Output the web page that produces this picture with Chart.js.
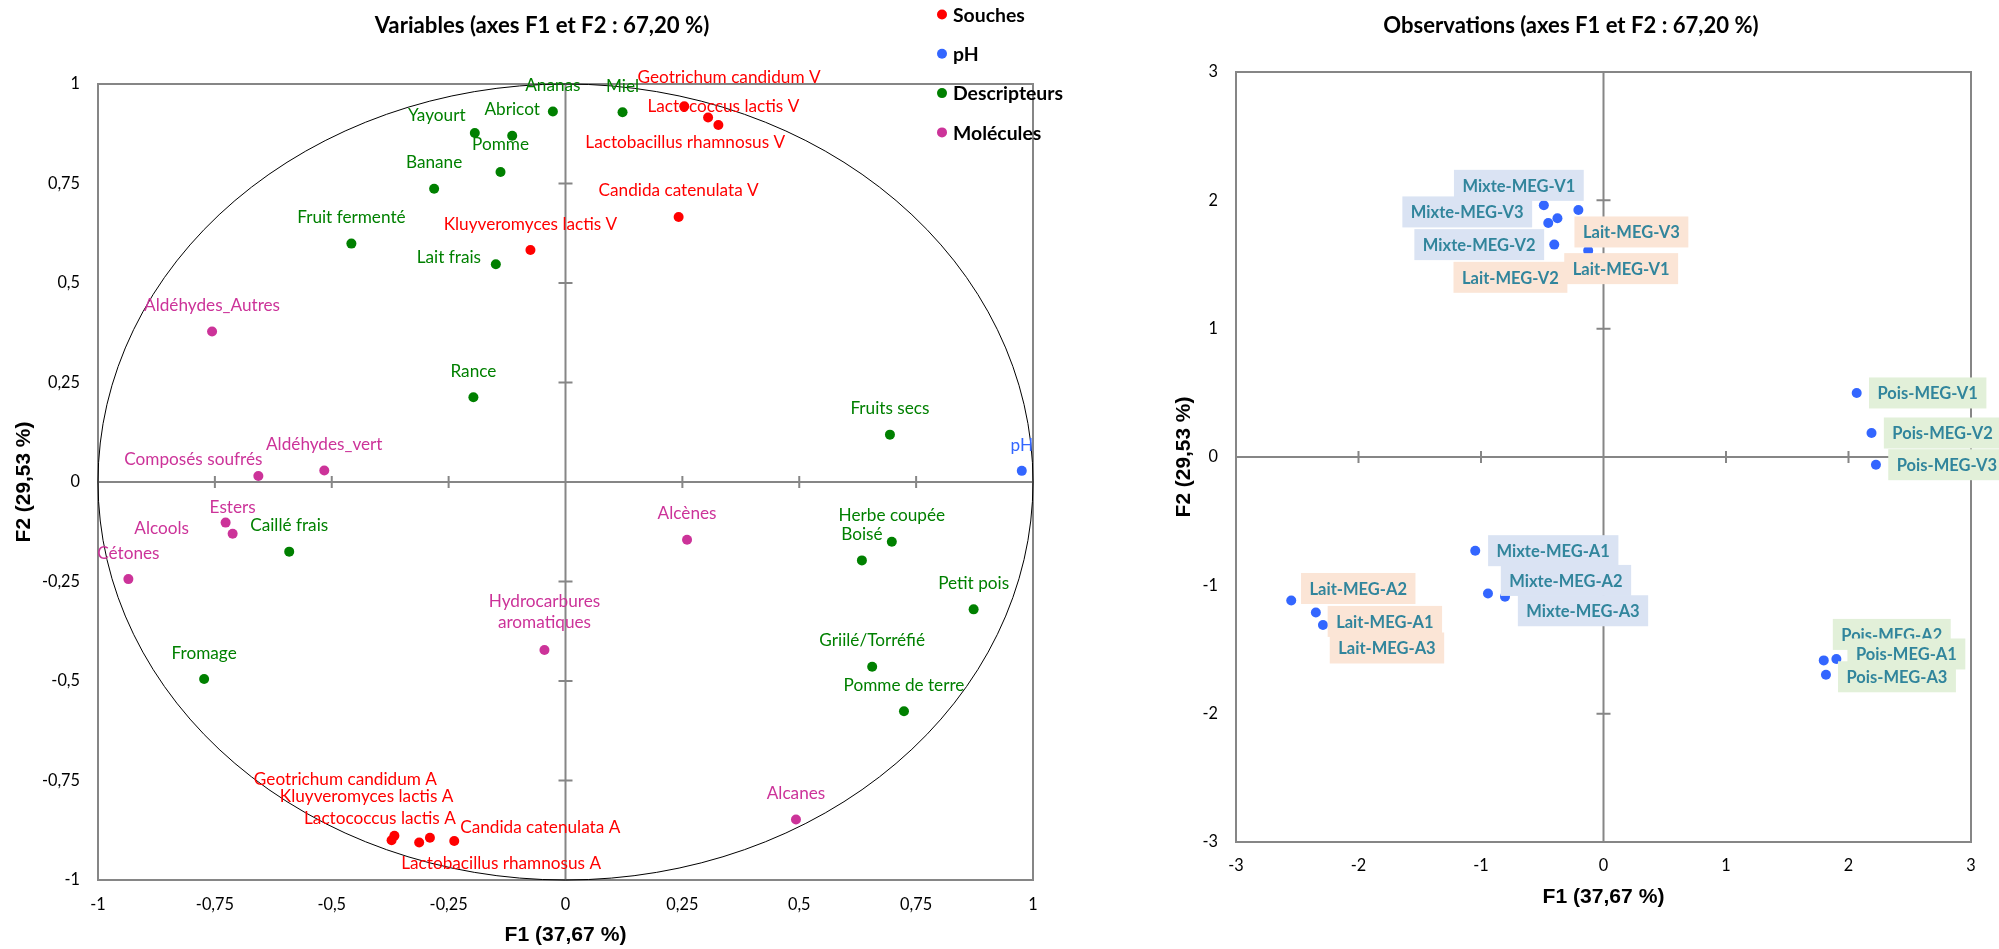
<!DOCTYPE html>
<html><head><meta charset="utf-8">
<script src="https://cdn.jsdelivr.net/npm/chart.js@4.4.1/dist/chart.umd.min.js"></script>
<style>
html,body{margin:0;padding:0;background:#fff;width:1999px;height:949px;overflow:hidden}
#left{position:absolute;left:0;top:0;width:1100px;height:949px}
#right{position:absolute;left:1100px;top:0;width:899px;height:949px}
</style></head><body>
<div id="left"><canvas id="c1"></canvas></div>
<div id="right"><canvas id="c2"></canvas></div>
<script>
// ---------- DATA: variables (F1, F2) ----------
const souchesNames = ['Geotrichum candidum V','Lactococcus lactis V','Lactobacillus rhamnosus V','Candida catenulata V','Kluyveromyces lactis V',
  'Geotrichum candidum A','Kluyveromyces lactis A','Lactococcus lactis A','Candida catenulata A','Lactobacillus rhamnosus A'];
const souchesF1 = [0.305, 0.327, 0.254, 0.242, -0.075, -0.366, -0.372, -0.290, -0.238, -0.313];
const souchesF2 = [0.916, 0.897, 0.944, 0.666, 0.583, -0.889, -0.900, -0.894, -0.902, -0.906];

const phNames = ['pH'];
const phF1 = [0.976];
const phF2 = [0.028];

const descNames = ['Ananas','Miel','Abricot','Yayourt','Pomme','Banane','Fruit fermenté','Lait frais','Rance','Fruits secs',
  'Caillé frais','Herbe coupée','Boisé','Petit pois','Griilé/Torréfié','Fromage','Pomme de terre'];
const descF1 = [-0.027, 0.122, -0.114, -0.194, -0.139, -0.281, -0.458, -0.149, -0.197, 0.694, -0.591, 0.698, 0.634, 0.873, 0.656, -0.773, 0.724];
const descF2 = [0.931, 0.929, 0.870, 0.877, 0.779, 0.737, 0.599, 0.547, 0.213, 0.119, -0.175, -0.150, -0.197, -0.320, -0.464, -0.495, -0.576];

const molNames = ['Aldéhydes_Autres','Composés soufrés','Aldéhydes_vert','Esters','Alcools','Cétones','Alcènes','Hydrocarbures\naromatiques','Alcanes'];
const molF1 = [-0.756, -0.657, -0.516, -0.712, -0.727, -0.935, 0.260, -0.045, 0.493];
const molF2 = [0.378, 0.015, 0.029, -0.130, -0.102, -0.244, -0.145, -0.422, -0.848];

const varTickLabels = ['-1','-0,75','-0,5','-0,25','0','0,25','0,5','0,75','1'];

// ---------- DATA: observations (F1, F2) ----------
const obsNames = ['Lait-MEG-V1','Lait-MEG-V2','Lait-MEG-V3','Mixte-MEG-V1','Mixte-MEG-V2','Mixte-MEG-V3','Pois-MEG-V1','Pois-MEG-V2','Pois-MEG-V3',
  'Lait-MEG-A1','Lait-MEG-A2','Lait-MEG-A3','Mixte-MEG-A1','Mixte-MEG-A2','Mixte-MEG-A3','Pois-MEG-A2','Pois-MEG-A1','Pois-MEG-A3'];
const obsF1 = [-0.125, -0.376, -0.205, -0.487, -0.402, -0.451, 2.067, 2.188, 2.224, -2.348, -2.549, -2.290, -1.047, -0.943, -0.804, 1.798, 1.901, 1.816];
const obsF2 = [1.608, 1.860, 1.925, 1.961, 1.655, 1.824, 0.499, 0.187, -0.060, -1.211, -1.118, -1.309, -0.730, -1.063, -1.089, -1.585, -1.574, -1.697];

const obsTickLabels = ['-3','-2','-1','0','1','2','3'];

// ---------- label placement (layout only, pixel offsets from the point) ----------
const souchesLabelPos = [[21,-40],[5,-19],[1,36],[0,-26],[0,-26],[-49,-56],[-25,-44],[-50,-19],[86,-14],[82,21]];
const phLabelPos = [[0,-25]];
const descLabelPos = [[0,-26],[0,-26],[0,-26],[-38,-17],[0,-27],[0,-26],[0,-26],[-47,-7],[0,-26],[0,-26],[0,-26],[0,-26],[0,-26],[0,-26],[0,-26],[0,-26],[0,-26]];
const molLabelPos = [[0,-26],[-65,-17],[0,-26],[0,-26],[-64,6],[0,-26],[0,-26],[0,-38],[0,-26]];
const obsLabelPos = [[33,18],[-47,59],[53,22],[-25,-20],[-75,0],[-81,-11],[71,0],[71,0],[71,0],
  [69,9],[67,-12],[64,23],[78,0],[78,-13],[78,14],[68,-26],[70,-5],[71,2]];

// ---------- styles ----------
const RED = '#FF0000', BLUE = '#3366FF', GREEN = '#008000', MAGENTA = '#CC3399';
const AXIS_GREY = '#868686';
const FONT = 'Lato';
const AXFONT = 'Liberation Sans';
Chart.defaults.font.family = FONT;
Chart.defaults.color = '#000';

// font size calibrated so that a sample string has the width measured on the reference
const mctx = document.createElement('canvas').getContext('2d');
function fitSize(sample, weight, family, target) {
  mctx.font = weight + ' 100px ' + family;
  return Math.round(100 * target / mctx.measureText(sample).width * 10) / 10;
}
const SZ_TITLE_L = fitSize('Variables (axes F1 et F2 : 67,20 %)', 'bold', FONT, 335);
const SZ_TITLE_R = fitSize('Observations (axes F1 et F2 : 67,20 %)', 'bold', FONT, 375);
const SZ_F1 = fitSize('F1 (37,67 %)', 'bold', AXFONT, 122);
const SZ_F2 = fitSize('F2 (29,53 %)', 'bold', AXFONT, 121);
const SZ_LABEL = fitSize('Lactobacillus rhamnosus V', 'normal', FONT, 200);
const SZ_TICK = fitSize('0,75', 'normal', FONT, 32);
const SZ_LEGEND = fitSize('Descripteurs', 'bold', FONT, 110);
const SZ_BOX = fitSize('Mixte-MEG-A1', 'bold', FONT, 113);

const toPts = (xs, ys) => xs.map((x, i) => ({x, y: ys[i]}));

const framePlugin = {
  id: 'frame',
  beforeDatasetsDraw(chart, args, opts) {
    const {ctx, chartArea: a, scales: {x, y}} = chart;
    ctx.save();
    ctx.strokeStyle = AXIS_GREY; ctx.lineWidth = 2;
    ctx.strokeRect(a.left, a.top, a.right - a.left, a.bottom - a.top);
    const x0 = x.getPixelForValue(0), y0 = y.getPixelForValue(0);
    ctx.beginPath();
    ctx.moveTo(a.left, y0); ctx.lineTo(a.right, y0);
    ctx.moveTo(x0, a.top); ctx.lineTo(x0, a.bottom);
    x.ticks.forEach(t => { const p = x.getPixelForValue(t.value); ctx.moveTo(p, y0 - 6); ctx.lineTo(p, y0 + 6); });
    y.ticks.forEach(t => { const p = y.getPixelForValue(t.value); ctx.moveTo(x0 - 7, p); ctx.lineTo(x0 + 7, p); });
    ctx.stroke();
    if (opts.circle) {
      const rx = x.getPixelForValue(1) - x0, ry = y0 - y.getPixelForValue(1);
      ctx.beginPath();
      ctx.strokeStyle = '#000'; ctx.lineWidth = 1;
      ctx.ellipse(x0, y0, rx, ry, 0, 0, Math.PI * 2);
      ctx.stroke();
    }
    ctx.restore();
  }
};

const titlePlugin = {
  id: 'ctitle',
  afterDraw(chart, args, opts) {
    const ctx = chart.ctx;
    ctx.save();
    ctx.font = opts.font; ctx.fillStyle = '#000';
    ctx.textAlign = 'center'; ctx.textBaseline = 'middle';
    ctx.fillText(opts.text, opts.x, opts.y);
    ctx.restore();
  }
};

const varLabelPlugin = {
  id: 'varLabels',
  afterDatasetsDraw(chart) {
    const ctx = chart.ctx;
    ctx.save();
    ctx.font = SZ_LABEL + 'px ' + FONT;
    ctx.textAlign = 'center'; ctx.textBaseline = 'middle';
    chart.data.datasets.forEach((ds, i) => {
      const meta = chart.getDatasetMeta(i);
      ctx.fillStyle = ds.backgroundColor;
      meta.data.forEach((el, j) => {
        const [dx, dy] = ds.labelPos[j];
        const lines = ds.names[j].split('\n');
        const lh = 21.5;
        lines.forEach((ln, k) => {
          ctx.fillText(ln, el.x + dx, el.y + dy + (k - (lines.length - 1) / 2) * lh);
        });
      });
    });
    ctx.restore();
  }
};

const legendPlugin = {
  id: 'legendPl',
  afterDraw(chart, args, opts) {
    const ctx = chart.ctx;
    ctx.save();
    ctx.font = 'bold ' + SZ_LEGEND + 'px ' + FONT;
    ctx.textAlign = 'left'; ctx.textBaseline = 'middle';
    chart.data.datasets.forEach((ds, i) => {
      const cy = opts.y + i * opts.gap;
      ctx.fillStyle = ds.backgroundColor;
      ctx.beginPath(); ctx.arc(opts.x, cy, 5, 0, Math.PI * 2); ctx.fill();
      ctx.fillStyle = '#000';
      ctx.fillText(ds.label, opts.x + 11, cy + 1);
    });
    ctx.restore();
  }
};

const BOX_COLORS = {Lait: '#FBE5D6', Mixte: '#DAE3F3', Pois: '#E2F0D9'};
const obsLabelPlugin = {
  id: 'obsLabels',
  afterDatasetsDraw(chart) {
    const ctx = chart.ctx;
    ctx.save();
    ctx.font = 'bold ' + SZ_BOX + 'px ' + FONT;
    ctx.textAlign = 'center'; ctx.textBaseline = 'middle';
    const ds = chart.data.datasets[0];
    const meta = chart.getDatasetMeta(0);
    meta.data.forEach((el, j) => {
      const name = ds.names[j];
      const [dx, dy] = ds.labelPos[j];
      const w = ctx.measureText(name).width + 17, h = 31;
      const cx = el.x + dx, cy = el.y + dy;
      ctx.fillStyle = BOX_COLORS[name.split('-')[0]];
      ctx.fillRect(cx - w / 2, cy - h / 2, w, h);
      ctx.fillStyle = '#31859C';
      ctx.fillText(name, cx, cy + 1);
    });
    ctx.restore();
  }
};

function scaleOpts(min, max, step, labels, title, titleFont, titlePad, tickPad, fitFn) {
  return {
    type: 'linear', min, max,
    ticks: {stepSize: step, padding: tickPad, color: '#000', font: {size: SZ_TICK}, callback: (v, i) => labels[i]},
    grid: {display: false, drawTicks: false},
    border: {display: false},
    title: {display: true, text: title, color: '#000', font: titleFont, padding: titlePad},
    afterFit: fitFn
  };
}

new Chart(document.getElementById('c1'), {
  type: 'scatter',
  data: {datasets: [
    {label: 'Souches', data: toPts(souchesF1, souchesF2), names: souchesNames, labelPos: souchesLabelPos, backgroundColor: RED},
    {label: 'pH', data: toPts(phF1, phF2), names: phNames, labelPos: phLabelPos, backgroundColor: BLUE},
    {label: 'Descripteurs', data: toPts(descF1, descF2), names: descNames, labelPos: descLabelPos, backgroundColor: GREEN},
    {label: 'Molécules', data: toPts(molF1, molF2), names: molNames, labelPos: molLabelPos, backgroundColor: MAGENTA}
  ]},
  options: {
    responsive: true, maintainAspectRatio: false, animation: false, devicePixelRatio: 1,
    elements: {point: {radius: 5, borderWidth: 0, hoverRadius: 5}},
    layout: {padding: {top: 84, right: 67, bottom: 0, left: 0}},
    plugins: {
      legend: {display: false}, tooltip: {enabled: false},
      frame: {circle: true},
      ctitle: {text: 'Variables (axes F1 et F2 : 67,20 %)', x: 542, y: 26, font: 'bold ' + SZ_TITLE_L + 'px ' + FONT},
      legendPl: {x: 942, y: 14.5, gap: 39.3}
    },
    scales: {
      x: scaleOpts(-1, 1, 0.25, varTickLabels, 'F1 (37,67 %)', {size: SZ_F1, weight: 'bold', family: AXFONT}, {top: 0, bottom: 1}, 15, s => { s.height = 69; }),
      y: scaleOpts(-1, 1, 0.25, varTickLabels, 'F2 (29,53 %)', {size: SZ_F2, weight: 'bold', family: AXFONT}, {top: 12, bottom: 0}, 18, s => { s.width = 98; })
    }
  },
  plugins: [framePlugin, varLabelPlugin, titlePlugin, legendPlugin]
});

new Chart(document.getElementById('c2'), {
  type: 'scatter',
  data: {datasets: [
    {label: 'Observations', data: toPts(obsF1, obsF2), names: obsNames, labelPos: obsLabelPos, backgroundColor: BLUE}
  ]},
  options: {
    responsive: true, maintainAspectRatio: false, animation: false, devicePixelRatio: 1,
    elements: {point: {radius: 5, borderWidth: 0, hoverRadius: 5}},
    layout: {padding: {top: 72, right: 28, bottom: 0, left: 0}},
    plugins: {
      legend: {display: false}, tooltip: {enabled: false},
      frame: {circle: false},
      ctitle: {text: 'Observations (axes F1 et F2 : 67,20 %)', x: 471, y: 26, font: 'bold ' + SZ_TITLE_R + 'px ' + FONT}
    },
    scales: {
      x: scaleOpts(-3, 3, 1, obsTickLabels, 'F1 (37,67 %)', {size: SZ_F1, weight: 'bold', family: AXFONT}, {top: 0, bottom: 39}, 14, s => { s.height = 107; }),
      y: scaleOpts(-3, 3, 1, obsTickLabels, 'F2 (29,53 %)', {size: SZ_F2, weight: 'bold', family: AXFONT}, {top: 72, bottom: 0}, 18, s => { s.width = 136; })
    }
  },
  plugins: [framePlugin, obsLabelPlugin, titlePlugin]
});
</script>
</body></html>
